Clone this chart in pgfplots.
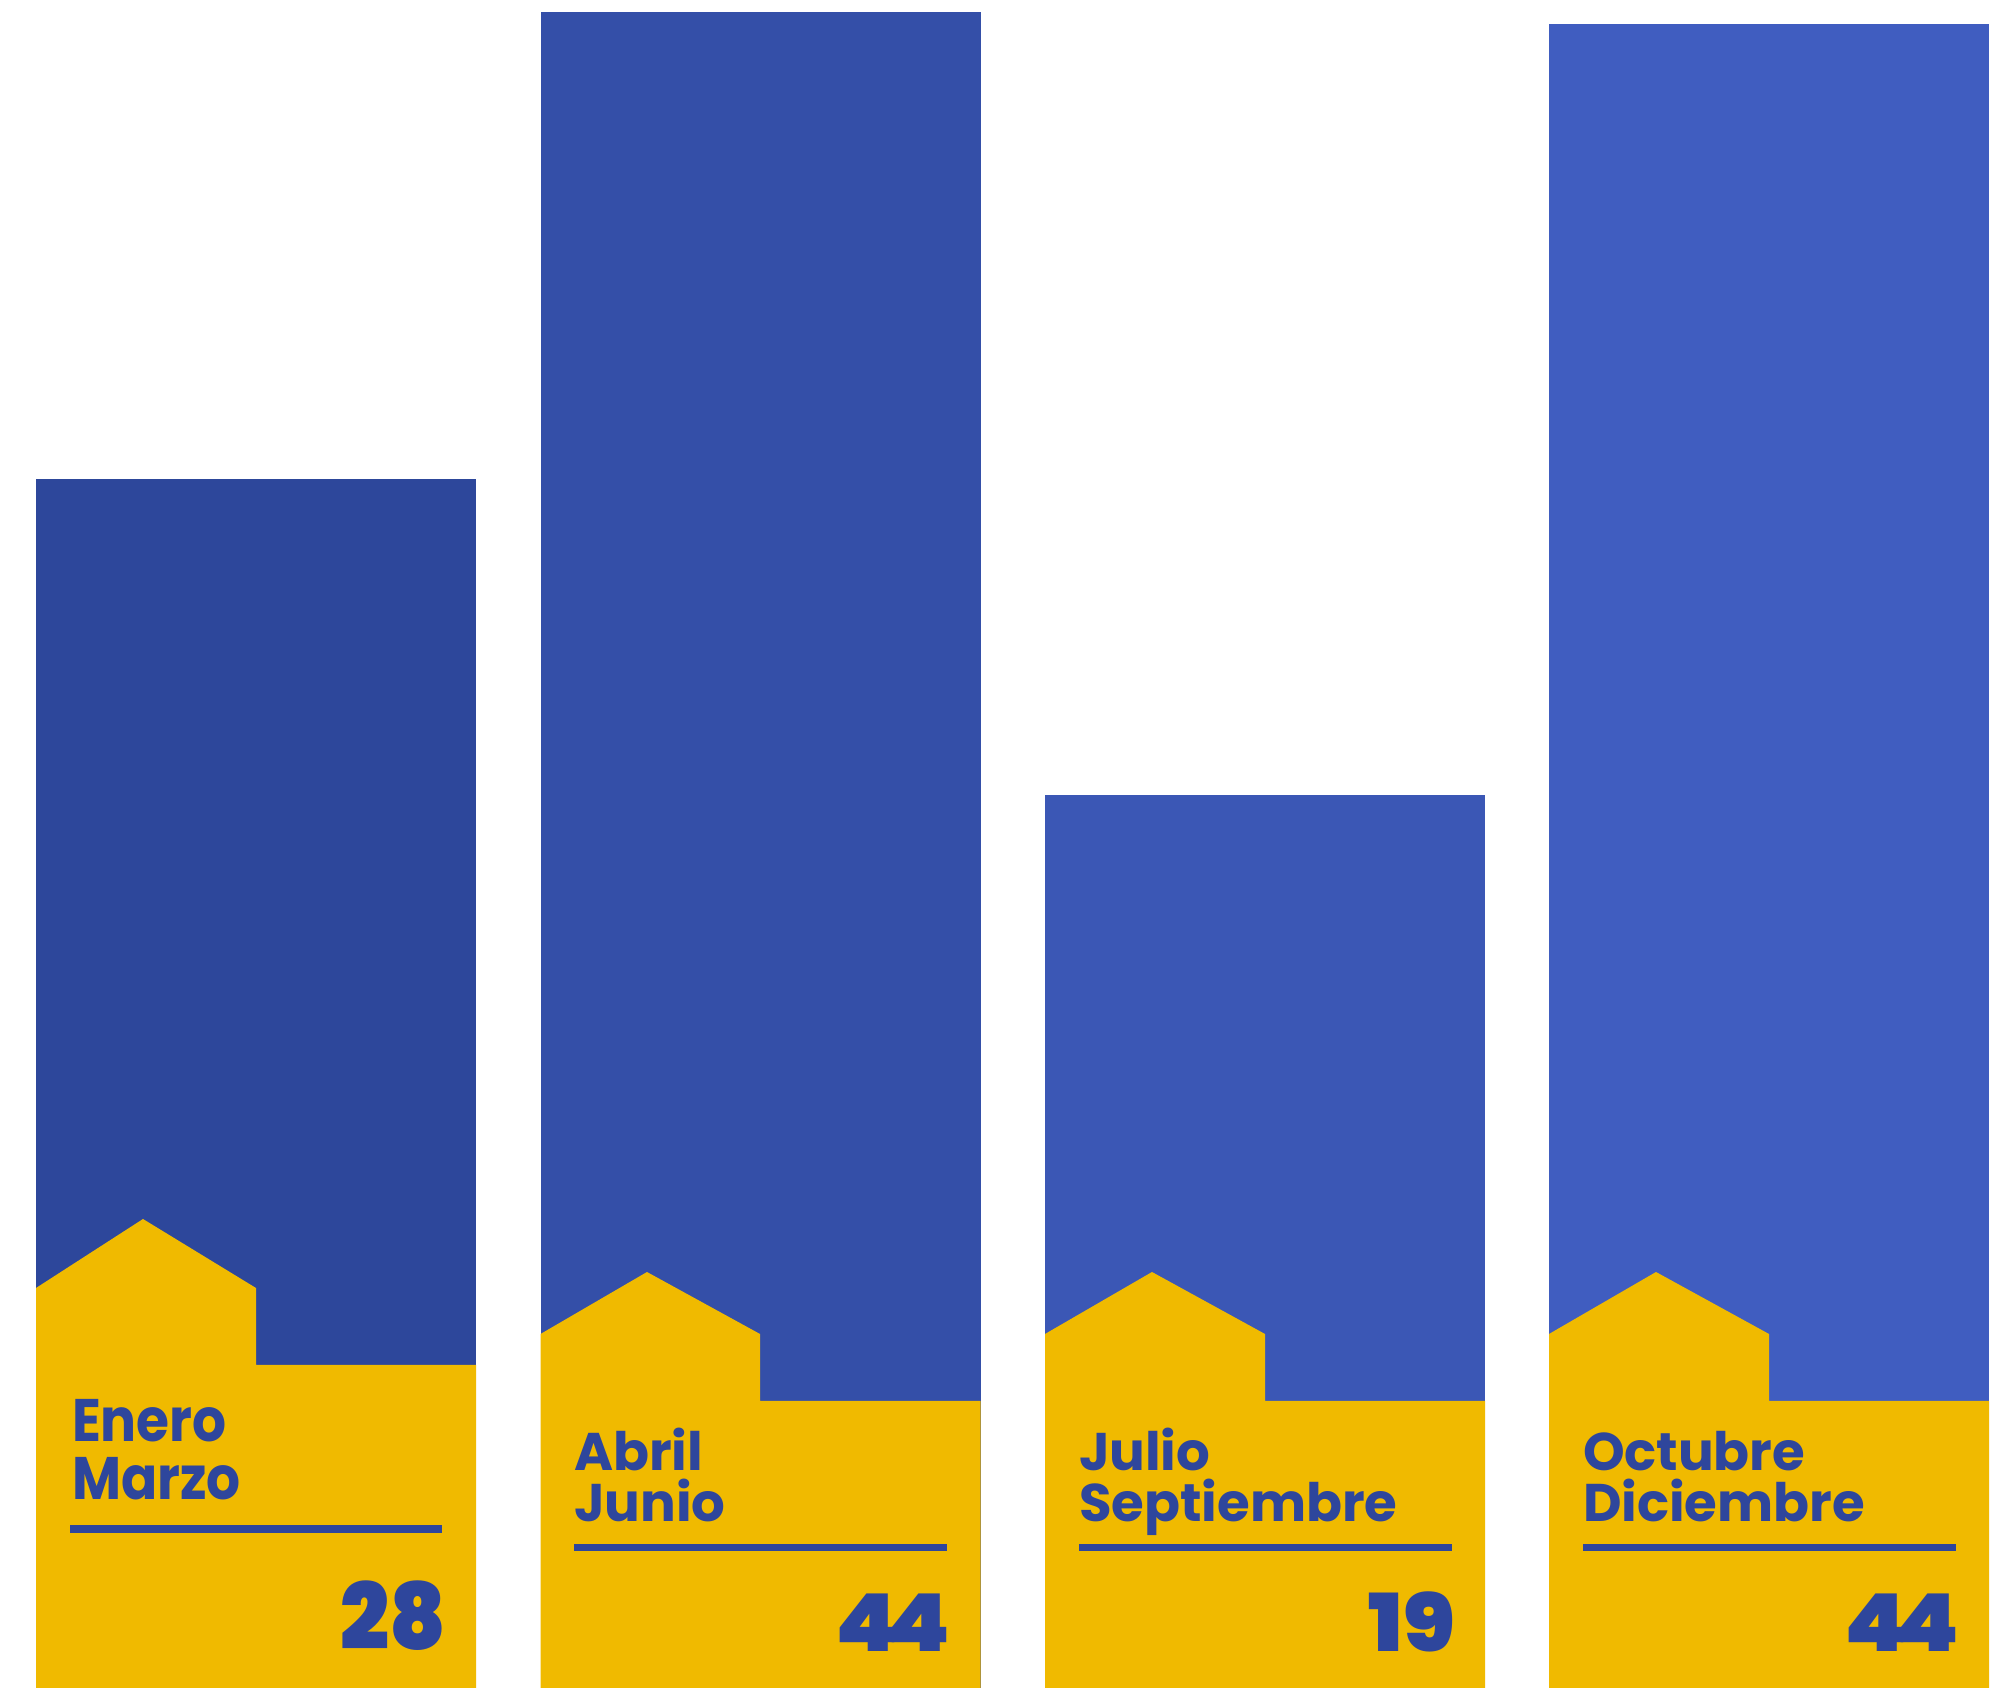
\documentclass[border=0pt]{standalone}
\usepackage{pgfplots}
\usepackage{fontspec}
\pgfplotsset{compat=1.18}
\setmainfont{Poppins}[BoldFont={Poppins Bold}]
\newfontfamily\lblAf[FakeStretch=0.89]{Poppins Bold}
\newfontfamily\numAf[FakeStretch=0.94]{Poppins Black}
\newfontfamily\numBf[FakeStretch=1.08]{Poppins Black}
\newfontfamily\numCf[FakeStretch=1.12,LetterSpace=-14]{Poppins Black}
\definecolor{barA}{HTML}{2D479B}
\definecolor{barB}{HTML}{344FA8}
\definecolor{barC}{HTML}{3B57B5}
\definecolor{barD}{HTML}{405DC0}
\definecolor{gold}{HTML}{F0BA00}
\definecolor{ink}{HTML}{2E469C}
\newcommand{\lblA}[1]{{\color{ink}\fontsize{30}{30}\lblAf #1}}
\newcommand{\lblB}[1]{{\color{ink}\fontsize{26.5}{26.5}\selectfont\bfseries #1}}
\newcommand{\numA}[1]{{\color{ink}\fontsize{46}{46}\numAf #1}}
\newcommand{\numB}[1]{{\color{ink}\fontsize{40}{40}\numBf #1}}
\newcommand{\numC}[1]{{\color{ink}\fontsize{40}{40}\numCf #1}}
\begin{document}
\begin{tikzpicture}
\begin{axis}[
  scale only axis, width=999.5pt, height=844pt,
  xmin=0, xmax=1999, ymin=0, ymax=1688,
  hide axis, clip=false,
]
\path (axis cs:0,0) rectangle (axis cs:1999,1688);
% bars: height in picture units
\addplot[ybar, bar width=440, bar shift=0pt, fill=barA, draw=none] coordinates {(256,1209)};
\addplot[ybar, bar width=440, bar shift=0pt, fill=barB, draw=none] coordinates {(760.5,1676)};
\addplot[ybar, bar width=440, bar shift=0pt, fill=barC, draw=none] coordinates {(1265,892.5)};
\addplot[ybar, bar width=440, bar shift=0pt, fill=barD, draw=none] coordinates {(1769,1664)};
% gold houses
\addplot[fill=gold, draw=none] coordinates {(36,0)(36,400)(143,469)(256,400)(256,323)(476,323)(476,0)} -- cycle;
\addplot[fill=gold, draw=none] coordinates {(540.5,0)(540.5,354)(647,416)(760,354)(760,287)(980.5,287)(980.5,0)} -- cycle;
\addplot[fill=gold, draw=none] coordinates {(1045,0)(1045,354)(1152,416)(1265,354)(1265,287)(1485,287)(1485,0)} -- cycle;
\addplot[fill=gold, draw=none] coordinates {(1549,0)(1549,354)(1656,416)(1769,354)(1769,287)(1989,287)(1989,0)} -- cycle;
% rules
\addplot[fill=ink, draw=none] coordinates {(69.5,155)(442,155)(442,163)(69.5,163)} -- cycle;
\addplot[fill=ink, draw=none] coordinates {(574,137)(947,137)(947,144)(574,144)} -- cycle;
\addplot[fill=ink, draw=none] coordinates {(1079,137)(1452,137)(1452,144)(1079,144)} -- cycle;
\addplot[fill=ink, draw=none] coordinates {(1583,137)(1956,137)(1956,144)(1583,144)} -- cycle;
% labels
\node[inner sep=0pt,outer sep=0pt,anchor=base west] at (axis cs:72,246) {\lblA{Enero}};
\node[inner sep=0pt,outer sep=0pt,anchor=base west] at (axis cs:72,188) {\lblA{Marzo}};
\node[inner sep=0pt,outer sep=0pt,anchor=base west] at (axis cs:574,217) {\lblB{Abril}};
\node[inner sep=0pt,outer sep=0pt,anchor=base west] at (axis cs:574,166) {\lblB{Junio}};
\node[inner sep=0pt,outer sep=0pt,anchor=base west] at (axis cs:1079,217) {\lblB{Julio}};
\node[inner sep=0pt,outer sep=0pt,anchor=base west] at (axis cs:1079,166) {\lblB{Septiembre}};
\node[inner sep=0pt,outer sep=0pt,anchor=base west] at (axis cs:1583,217) {\lblB{Octubre}};
\node[inner sep=0pt,outer sep=0pt,anchor=base west] at (axis cs:1583,166) {\lblB{Diciembre}};
\node[inner sep=0pt,outer sep=0pt,anchor=base east] at (axis cs:446,38) {\numA{28}};
\node[inner sep=0pt,outer sep=0pt,anchor=base east] at (axis cs:950,36) {\numC{44}};
\node[inner sep=0pt,outer sep=0pt,anchor=base east] at (axis cs:1455,36) {\numB{19}};
\node[inner sep=0pt,outer sep=0pt,anchor=base east] at (axis cs:1959,36) {\numC{44}};
\end{axis}
\end{tikzpicture}
\end{document}
